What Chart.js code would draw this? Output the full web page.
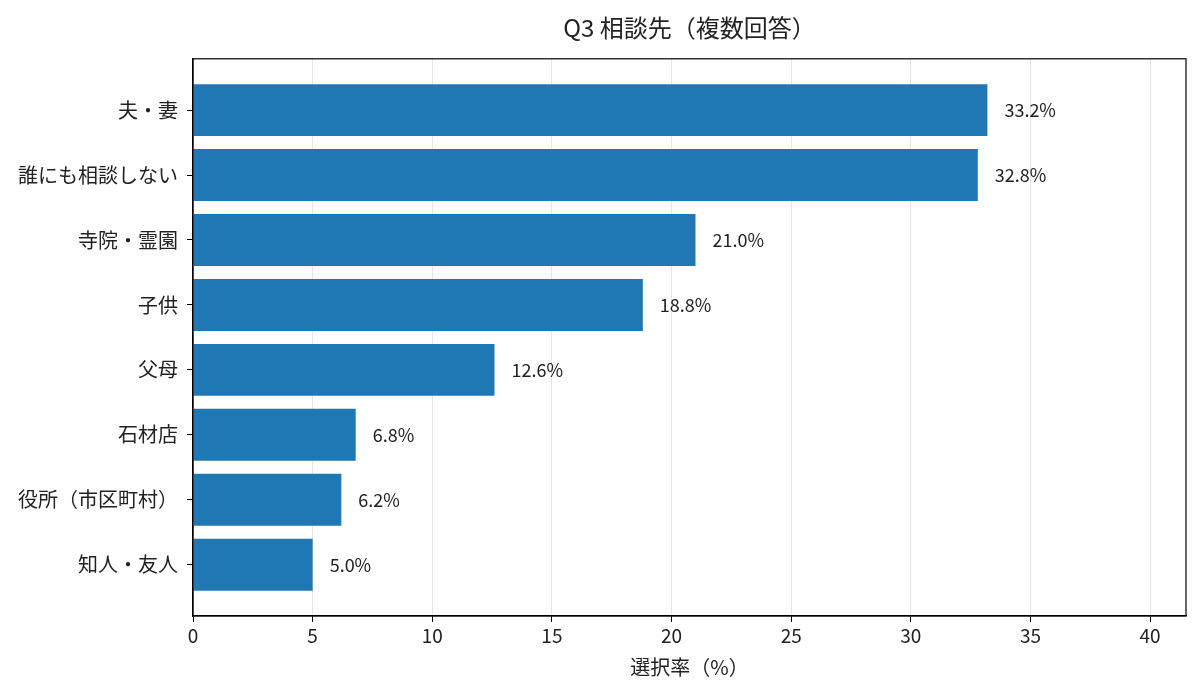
<!DOCTYPE html>
<html>
<head>
<meta charset="utf-8">
<script src="https://cdn.jsdelivr.net/npm/chart.js@4"></script>
<style>
  html, body { margin: 0; padding: 0; background: #fff; }
  #wrap { width: 1200px; height: 698px; }
</style>
</head>
<body>
<div id="wrap"><canvas id="chart"></canvas></div>
<script>
// Q3 相談先 data
const categories = ["夫・妻", "誰にも相談しない", "寺院・霊園", "子供", "父母", "石材店", "役所（市区町村）", "知人・友人"];
const rates = [33.2, 32.8, 21.0, 18.8, 12.6, 6.8, 6.2, 5.0];
const xTicks = [0, 5, 10, 15, 20, 25, 30, 35, 40];

const FONT = "'Noto Sans CJK JP', 'Noto Sans', sans-serif";

// frame + value labels
const extras = {
  id: "extras",
  afterDatasetsDraw(chart) {
    const ctx = chart.ctx;
    const meta = chart.getDatasetMeta(0);
    ctx.save();
    ctx.font = "18px " + FONT;
    ctx.fillStyle = "#222";
    ctx.textAlign = "left";
    ctx.textBaseline = "middle";
    meta.data.forEach((bar, i) => {
      ctx.fillText(rates[i].toFixed(1) + "%", bar.x + 17, bar.y);
    });
    ctx.restore();
  },
  afterDraw(chart) {
    const a = chart.chartArea;
    const ctx = chart.ctx;
    ctx.save();
    ctx.strokeStyle = "#000";
    ctx.lineWidth = 1.2;
    ctx.strokeRect(a.left, a.top, a.right - a.left, a.bottom - a.top);
    ctx.restore();
  }
};

new Chart(document.getElementById("chart"), {
  type: "bar",
  data: {
    datasets: [{
      data: rates.map((v, i) => ({ x: v, y: i })),
      backgroundColor: "#1f77b4",
      borderWidth: 0,
      categoryPercentage: 1,
      barPercentage: 0.8
    }]
  },
  options: {
    indexAxis: "y",
    responsive: true,
    maintainAspectRatio: false,
    animation: false,
    layout: { padding: { left: 0, right: 14, top: 0, bottom: 0 } },
    plugins: {
      legend: { display: false },
      tooltip: { enabled: false },
      title: {
        display: true,
        fullSize: false,
        text: "Q3 相談先（複数回答）",
        color: "#222",
        font: { family: FONT, size: 24, weight: "normal" },
        padding: { top: 13, bottom: 17 }
      }
    },
    scales: {
      x: {
        type: "linear",
        min: 0,
        max: 41.5,
        afterBuildTicks(scale) { scale.ticks = xTicks.map(v => ({ value: v })); },
        afterFit(scale) { scale.height = 82; },
        grid: { color: "#e4e4e4", tickColor: "#000", tickLength: 6, lineWidth: 1 },
        border: { color: "#000", width: 1.2 },
        ticks: { color: "#222", font: { family: FONT, size: 19 }, padding: 2, maxRotation: 0 },
        title: {
          display: true,
          text: "選択率（%）",
          color: "#222",
          font: { family: FONT, size: 20 },
          padding: { top: 0, bottom: 19 }
        }
      },
      y: {
        type: "linear",
        reverse: true,
        offset: false,
        min: -0.79,
        max: 7.79,
        afterBuildTicks(scale) { scale.ticks = categories.map((_, i) => ({ value: i })); },
        afterFit(scale) { scale.width = 193; },
        grid: { offset: false, drawOnChartArea: false, tickColor: "#000", tickLength: 6 },
        border: { color: "#000", width: 1.2 },
        ticks: {
          color: "#222",
          font: { family: FONT, size: 20 },
          padding: 9,
          callback: v => categories[v] ?? ""
        }
      }
    }
  },
  plugins: [extras]
});
</script>
</body>
</html>
